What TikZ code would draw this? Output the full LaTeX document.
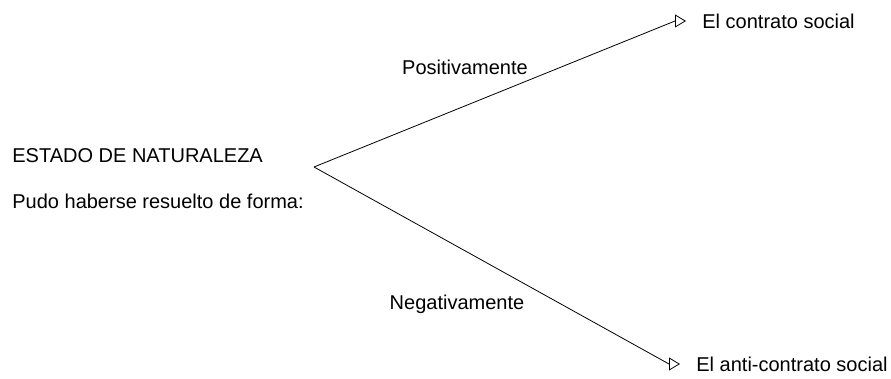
\documentclass[tikz,border=0pt]{standalone}
\usepackage{fontspec}
\setmainfont{Liberation Sans}
\usetikzlibrary{positioning,arrows.meta}
\tikzset{
  txt/.style={inner sep=0pt, anchor=base west},
  outcome/.style={anchor=west, inner xsep=8pt, inner ysep=0pt},
  branch/.style={-{Triangle[open,length=5.5pt,width=6.5pt]}, thin}
}

\begin{document}
\begin{tikzpicture}[x=0.5pt, y=-0.5pt]
      \useasboundingbox (0,0) rectangle (891,379);
      \node[txt] (estado) at (12,163) {ESTADO DE NATURALEZA};
      \node[txt] (pudo) at (12,209) {Pudo haberse resuelto de forma:};

      \coordinate (vertex) at (314,167);
      \node[outcome] (contrato) at (686,21) {El contrato social};
      \node[outcome] (anti) at (680,364) {El anti-contrato social};

      \draw[branch] (vertex) -- ([xshift=-5.5pt]contrato.west) -- (contrato.west);
      \draw[branch] (vertex) -- ([xshift=-5.5pt]anti.west) -- (anti.west);

      \node (pos) at (465,67) {Positivamente};
      \node (neg) at (457,304) {Negativamente};
    \end{tikzpicture}
\end{document}
